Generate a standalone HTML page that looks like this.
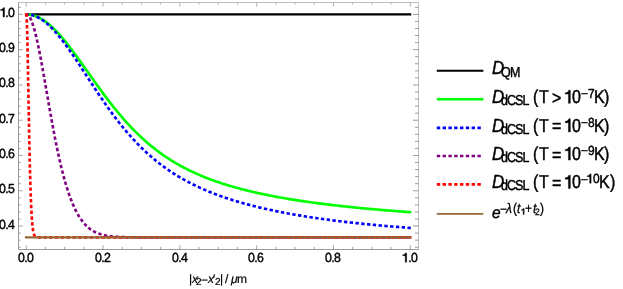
<!DOCTYPE html>
<html><head><meta charset="utf-8"><title>plot</title>
<style>
html,body{margin:0;padding:0;background:#fff;}
body{width:623px;height:289px;position:relative;overflow:hidden;font-family:"Liberation Sans",sans-serif;color:#000;}
#txt{position:absolute;left:0;top:0;width:623px;height:289px;will-change:transform;}
#txt>span{position:absolute;white-space:nowrap;line-height:1;transform:rotate(0.03deg);-webkit-text-stroke:0.4px #000;}
#txt>span>b{font-weight:normal;color:transparent;-webkit-text-stroke:0 transparent;}
</style></head><body>
<svg width="623" height="289" viewBox="0 0 623 289" style="position:absolute;left:0;top:0">
<g fill="none" stroke-linejoin="round">
<path d="M25.75,14.40 L411.25,14.40" stroke="#000" stroke-width="2.3"/>
<path d="M26.25,14.40 L26.60,14.40 L26.99,14.41 L27.38,14.43 L27.74,14.44 L28.09,14.47 L28.48,14.50 L28.84,14.53 L29.22,14.58 L29.64,14.63 L29.98,14.68 L30.33,14.73 L30.71,14.80 L31.11,14.87 L31.52,14.95 L31.81,15.02 L32.11,15.08 L32.42,15.16 L32.74,15.24 L33.07,15.32 L33.41,15.42 L33.76,15.52 L34.12,15.63 L34.49,15.75 L34.88,15.87 L35.27,16.01 L35.67,16.16 L36.08,16.31 L36.51,16.48 L36.95,16.66 L37.39,16.85 L37.85,17.05 L38.32,17.27 L38.56,17.38 L38.80,17.50 L39.05,17.62 L39.29,17.75 L39.55,17.87 L39.80,18.01 L40.06,18.14 L40.32,18.28 L40.58,18.43 L40.84,18.57 L41.11,18.73 L41.38,18.88 L41.66,19.05 L41.94,19.21 L42.22,19.38 L42.50,19.56 L42.79,19.74 L43.08,19.92 L43.37,20.11 L43.67,20.31 L43.97,20.51 L44.27,20.71 L44.58,20.92 L44.89,21.14 L45.20,21.36 L45.51,21.58 L45.83,21.82 L46.15,22.06 L46.48,22.30 L46.81,22.55 L47.14,22.81 L47.47,23.07 L47.81,23.34 L48.15,23.61 L48.50,23.89 L48.85,24.18 L49.20,24.47 L49.55,24.77 L49.91,25.08 L50.27,25.40 L50.64,25.72 L51.00,26.05 L51.38,26.38 L51.75,26.72 L52.13,27.07 L52.51,27.43 L52.90,27.80 L53.29,28.17 L53.68,28.55 L54.07,28.93 L54.47,29.33 L54.88,29.73 L55.28,30.14 L55.69,30.56 L56.10,30.99 L56.52,31.42 L56.94,31.86 L57.37,32.31 L57.79,32.77 L58.22,33.24 L58.66,33.71 L59.10,34.20 L59.54,34.69 L59.99,35.19 L60.44,35.70 L60.89,36.22 L61.34,36.75 L61.81,37.28 L62.27,37.83 L62.74,38.38 L63.21,38.94 L63.68,39.51 L64.16,40.09 L64.65,40.68 L65.13,41.27 L65.62,41.88 L66.12,42.49 L66.61,43.12 L67.12,43.75 L67.62,44.39 L68.13,45.04 L68.64,45.70 L69.16,46.36 L69.68,47.04 L70.21,47.72 L70.73,48.42 L71.27,49.12 L71.80,49.83 L72.34,50.55 L72.89,51.28 L73.44,52.01 L73.99,52.76 L74.54,53.51 L75.10,54.27 L75.67,55.04 L76.24,55.82 L76.81,56.61 L77.38,57.40 L77.96,58.21 L78.55,59.02 L79.14,59.83 L79.73,60.66 L80.33,61.49 L80.93,62.33 L81.53,63.18 L82.14,64.04 L82.75,64.90 L83.37,65.77 L83.99,66.65 L84.61,67.53 L85.24,68.42 L85.88,69.32 L86.51,70.22 L87.16,71.13 L87.80,72.04 L88.45,72.96 L89.11,73.89 L89.76,74.82 L90.43,75.76 L91.09,76.70 L91.76,77.65 L92.44,78.60 L93.12,79.56 L93.80,80.52 L94.49,81.48 L95.18,82.45 L95.88,83.43 L96.58,84.41 L97.29,85.39 L98.00,86.37 L98.71,87.36 L99.43,88.35 L100.15,89.34 L100.88,90.34 L101.61,91.34 L102.35,92.34 L103.09,93.34 L103.83,94.34 L104.58,95.35 L105.34,96.36 L106.09,97.36 L106.86,98.37 L107.62,99.38 L108.40,100.39 L109.17,101.40 L109.95,102.41 L110.74,103.42 L111.53,104.43 L112.32,105.44 L113.12,106.45 L113.92,107.46 L114.73,108.46 L115.54,109.47 L116.36,110.47 L117.18,111.47 L118.01,112.47 L118.84,113.47 L119.67,114.46 L120.51,115.46 L121.36,116.45 L122.21,117.43 L123.06,118.42 L123.92,119.40 L124.78,120.37 L125.65,121.35 L126.52,122.31 L127.40,123.28 L128.28,124.24 L129.17,125.20 L130.06,126.15 L130.96,127.10 L131.86,128.04 L132.76,128.98 L133.67,129.91 L134.59,130.84 L135.51,131.76 L136.43,132.68 L137.36,133.59 L138.30,134.50 L139.24,135.40 L140.18,136.30 L141.13,137.19 L142.08,138.07 L143.04,138.94 L144.00,139.82 L144.97,140.68 L145.95,141.54 L146.92,142.39 L147.91,143.23 L148.89,144.07 L149.89,144.90 L150.89,145.73 L151.89,146.55 L152.90,147.36 L153.91,148.16 L154.93,148.96 L155.95,149.75 L156.98,150.53 L158.01,151.31 L159.05,152.08 L160.09,152.84 L161.14,153.60 L162.19,154.34 L163.25,155.09 L164.31,155.82 L165.38,156.55 L166.45,157.27 L167.53,157.98 L168.61,158.68 L169.70,159.38 L170.79,160.07 L171.89,160.76 L172.99,161.44 L174.10,162.11 L175.21,162.77 L176.33,163.43 L177.46,164.07 L178.59,164.72 L179.72,165.35 L180.86,165.98 L182.00,166.60 L183.15,167.22 L184.31,167.83 L185.47,168.43 L186.63,169.02 L187.80,169.61 L188.98,170.19 L190.16,170.77 L191.35,171.34 L192.54,171.90 L193.74,172.46 L194.94,173.01 L196.15,173.55 L197.36,174.09 L198.58,174.62 L199.80,175.15 L201.03,175.67 L202.26,176.18 L203.50,176.69 L204.75,177.19 L206.00,177.69 L207.25,178.18 L208.52,178.67 L209.78,179.15 L211.05,179.62 L212.33,180.09 L213.61,180.55 L214.90,181.01 L216.20,181.47 L217.49,181.91 L218.80,182.36 L220.11,182.80 L221.42,183.23 L222.74,183.66 L224.07,184.08 L225.40,184.50 L226.74,184.92 L228.08,185.32 L229.43,185.73 L230.78,186.13 L232.14,186.53 L233.51,186.92 L234.88,187.31 L236.26,187.69 L237.64,188.07 L239.02,188.44 L240.42,188.81 L241.82,189.18 L243.22,189.54 L244.63,189.90 L246.04,190.26 L247.47,190.61 L248.89,190.95 L250.32,191.30 L251.76,191.64 L253.21,191.97 L254.65,192.31 L256.11,192.64 L257.57,192.96 L259.04,193.28 L260.51,193.60 L261.99,193.92 L263.47,194.23 L264.96,194.54 L266.45,194.85 L267.95,195.15 L269.46,195.45 L270.97,195.74 L272.49,196.04 L274.01,196.33 L275.54,196.62 L277.08,196.90 L278.62,197.18 L280.17,197.46 L281.72,197.74 L283.28,198.01 L284.84,198.28 L286.41,198.55 L287.99,198.82 L289.57,199.08 L291.16,199.34 L292.75,199.60 L294.35,199.85 L295.95,200.10 L297.57,200.35 L299.18,200.60 L300.81,200.85 L302.44,201.09 L304.07,201.33 L305.71,201.57 L307.36,201.80 L309.01,202.04 L310.67,202.27 L312.33,202.50 L314.01,202.73 L315.68,202.95 L317.36,203.17 L319.05,203.39 L320.75,203.61 L322.45,203.83 L324.16,204.05 L325.87,204.26 L327.59,204.47 L329.31,204.68 L331.04,204.88 L332.78,205.09 L334.52,205.29 L336.27,205.49 L338.03,205.69 L339.79,205.89 L341.56,206.09 L343.33,206.28 L345.11,206.48 L346.90,206.67 L348.69,206.86 L350.49,207.04 L352.29,207.23 L354.10,207.41 L355.92,207.60 L357.74,207.78 L359.57,207.96 L361.41,208.13 L363.25,208.31 L365.10,208.48 L366.95,208.66 L368.81,208.83 L370.68,209.00 L372.55,209.17 L374.43,209.34 L376.31,209.50 L378.20,209.67 L380.10,209.83 L382.01,209.99 L383.92,210.15 L385.83,210.31 L387.76,210.47 L389.68,210.63 L391.62,210.78 L393.56,210.93 L395.51,211.09 L397.47,211.24 L399.43,211.39 L401.39,211.54 L403.37,211.69 L405.35,211.83 L407.33,211.98 L409.33,212.12 L411.33,212.26" stroke="#00ff00" stroke-width="2.65"/>
<path d="M26.25,14.40 L26.60,14.40 L26.99,14.41 L27.38,14.43 L27.74,14.45 L28.09,14.47 L28.48,14.51 L28.84,14.55 L29.22,14.60 L29.53,14.64 L29.86,14.69 L30.21,14.75 L30.58,14.81 L30.97,14.89 L31.38,14.98 L31.67,15.05 L31.96,15.12 L32.27,15.20 L32.58,15.29 L32.91,15.38 L33.24,15.48 L33.59,15.59 L33.94,15.70 L34.31,15.83 L34.68,15.97 L35.07,16.11 L35.47,16.27 L35.88,16.44 L36.30,16.62 L36.73,16.81 L37.17,17.01 L37.62,17.23 L38.08,17.47 L38.32,17.59 L38.56,17.71 L38.80,17.84 L39.05,17.98 L39.29,18.12 L39.55,18.26 L39.80,18.40 L40.06,18.56 L40.32,18.71 L40.58,18.87 L40.84,19.03 L41.11,19.20 L41.38,19.38 L41.66,19.56 L41.94,19.74 L42.22,19.93 L42.50,20.12 L42.79,20.32 L43.08,20.53 L43.37,20.74 L43.67,20.95 L43.97,21.18 L44.27,21.40 L44.58,21.64 L44.89,21.87 L45.20,22.12 L45.51,22.37 L45.83,22.63 L46.15,22.89 L46.48,23.16 L46.81,23.44 L47.14,23.72 L47.47,24.01 L47.81,24.31 L48.15,24.62 L48.50,24.93 L48.85,25.24 L49.20,25.57 L49.55,25.90 L49.91,26.24 L50.27,26.59 L50.64,26.95 L51.00,27.31 L51.38,27.68 L51.75,28.06 L52.13,28.45 L52.51,28.84 L52.90,29.24 L53.29,29.65 L53.68,30.07 L54.07,30.50 L54.47,30.94 L54.88,31.38 L55.28,31.83 L55.69,32.30 L56.10,32.77 L56.52,33.25 L56.94,33.73 L57.37,34.23 L57.79,34.74 L58.22,35.25 L58.66,35.78 L59.10,36.31 L59.54,36.85 L59.99,37.40 L60.44,37.97 L60.89,38.54 L61.34,39.12 L61.81,39.71 L62.27,40.30 L62.74,40.91 L63.21,41.53 L63.68,42.16 L64.16,42.79 L64.65,43.44 L65.13,44.09 L65.62,44.76 L66.12,45.43 L66.61,46.12 L67.12,46.81 L67.62,47.52 L68.13,48.23 L68.64,48.95 L69.16,49.68 L69.68,50.42 L70.21,51.17 L70.73,51.93 L71.27,52.70 L71.80,53.48 L72.34,54.27 L72.89,55.07 L73.44,55.87 L73.99,56.69 L74.54,57.51 L75.10,58.34 L75.67,59.18 L76.24,60.03 L76.81,60.89 L77.38,61.76 L77.96,62.64 L78.55,63.52 L79.14,64.41 L79.73,65.31 L80.33,66.22 L80.93,67.14 L81.53,68.06 L82.14,68.99 L82.75,69.93 L83.37,70.87 L83.99,71.83 L84.61,72.79 L85.24,73.75 L85.88,74.73 L86.51,75.71 L87.16,76.69 L87.80,77.69 L88.45,78.68 L89.11,79.69 L89.76,80.70 L90.43,81.71 L91.09,82.73 L91.76,83.76 L92.44,84.79 L93.12,85.82 L93.80,86.86 L94.49,87.91 L95.18,88.95 L95.88,90.00 L96.58,91.06 L97.29,92.12 L98.00,93.18 L98.71,94.24 L99.43,95.31 L100.15,96.38 L100.88,97.45 L101.61,98.53 L102.35,99.60 L103.09,100.68 L103.83,101.76 L104.58,102.84 L105.34,103.92 L106.09,105.00 L106.86,106.08 L107.62,107.16 L108.40,108.25 L109.17,109.33 L109.95,110.41 L110.74,111.49 L111.53,112.57 L112.32,113.65 L113.12,114.73 L113.92,115.81 L114.73,116.88 L115.54,117.95 L116.36,119.03 L117.18,120.09 L118.01,121.16 L118.84,122.22 L119.67,123.28 L120.51,124.34 L121.36,125.39 L122.21,126.45 L123.06,127.49 L123.92,128.54 L124.78,129.57 L125.65,130.61 L126.52,131.64 L127.40,132.67 L128.28,133.69 L129.17,134.70 L130.06,135.71 L130.96,136.72 L131.86,137.72 L132.76,138.72 L133.67,139.71 L134.59,140.69 L135.51,141.67 L136.43,142.64 L137.36,143.61 L138.30,144.57 L139.24,145.52 L140.18,146.47 L141.13,147.41 L142.08,148.35 L143.04,149.27 L144.00,150.20 L144.97,151.11 L145.95,152.02 L146.92,152.92 L147.91,153.81 L148.89,154.70 L149.89,155.58 L150.89,156.45 L151.89,157.32 L152.90,158.17 L153.91,159.02 L154.93,159.87 L155.95,160.70 L156.98,161.53 L158.01,162.35 L159.05,163.17 L160.09,163.97 L161.14,164.77 L162.19,165.56 L163.25,166.35 L164.31,167.13 L165.38,167.90 L166.45,168.66 L167.53,169.41 L168.61,170.16 L169.70,170.90 L170.79,171.63 L171.89,172.36 L172.99,173.07 L174.10,173.79 L175.21,174.49 L176.33,175.18 L177.46,175.87 L178.59,176.56 L179.72,177.23 L180.86,177.90 L182.00,178.56 L183.15,179.21 L184.31,179.86 L185.47,180.50 L186.63,181.14 L187.80,181.76 L188.98,182.38 L190.16,183.00 L191.35,183.60 L192.54,184.20 L193.74,184.80 L194.94,185.39 L196.15,185.97 L197.36,186.54 L198.58,187.11 L199.80,187.67 L201.03,188.23 L202.26,188.78 L203.50,189.33 L204.75,189.87 L206.00,190.40 L207.25,190.93 L208.52,191.45 L209.78,191.97 L211.05,192.48 L212.33,192.98 L213.61,193.48 L214.90,193.98 L216.20,194.47 L217.49,194.95 L218.80,195.43 L220.11,195.90 L221.42,196.37 L222.74,196.84 L224.07,197.30 L225.40,197.75 L226.74,198.20 L228.08,198.64 L229.43,199.08 L230.78,199.52 L232.14,199.95 L233.51,200.38 L234.88,200.80 L236.26,201.22 L237.64,201.63 L239.02,202.04 L240.42,202.44 L241.82,202.84 L243.22,203.24 L244.63,203.63 L246.04,204.02 L247.47,204.40 L248.89,204.78 L250.32,205.16 L251.76,205.53 L253.21,205.90 L254.65,206.27 L256.11,206.63 L257.57,206.99 L259.04,207.34 L260.51,207.69 L261.99,208.04 L263.47,208.38 L264.96,208.72 L266.45,209.06 L267.95,209.39 L269.46,209.72 L270.97,210.05 L272.49,210.37 L274.01,210.69 L275.54,211.01 L277.08,211.33 L278.62,211.64 L280.17,211.94 L281.72,212.25 L283.28,212.55 L284.84,212.85 L286.41,213.15 L287.99,213.44 L289.57,213.73 L291.16,214.02 L292.75,214.30 L294.35,214.58 L295.95,214.86 L297.57,215.14 L299.18,215.41 L300.81,215.68 L302.44,215.95 L304.07,216.22 L305.71,216.48 L307.36,216.74 L309.01,217.00 L310.67,217.25 L312.33,217.51 L314.01,217.76 L315.68,218.00 L317.36,218.25 L319.05,218.49 L320.75,218.73 L322.45,218.97 L324.16,219.21 L325.87,219.44 L327.59,219.67 L329.31,219.90 L331.04,220.13 L332.78,220.35 L334.52,220.58 L336.27,220.80 L338.03,221.02 L339.79,221.23 L341.56,221.44 L343.33,221.66 L345.11,221.87 L346.90,222.07 L348.69,222.28 L350.49,222.48 L352.29,222.68 L354.10,222.88 L355.92,223.08 L357.74,223.27 L359.57,223.47 L361.41,223.66 L363.25,223.85 L365.10,224.04 L366.95,224.22 L368.81,224.40 L370.68,224.59 L372.55,224.77 L374.43,224.94 L376.31,225.12 L378.20,225.29 L380.10,225.47 L382.01,225.64 L383.92,225.81 L385.83,225.97 L387.76,226.14 L389.68,226.30 L391.62,226.46 L393.56,226.62 L395.51,226.78 L397.47,226.94 L399.43,227.09 L401.39,227.25 L403.37,227.40 L405.35,227.55 L407.33,227.70 L409.33,227.84 L411.33,227.99" stroke="#0000ff" stroke-width="2.65" stroke-dasharray="3.4 2.4" stroke-dashoffset="0.9"/>
<path d="M26.25,14.40 L26.58,14.43 L26.86,14.49 L27.17,14.60 L27.43,14.74 L27.67,14.89 L27.94,15.09 L28.16,15.28 L28.40,15.51 L28.66,15.79 L28.84,16.01 L29.03,16.25 L29.22,16.52 L29.43,16.82 L29.64,17.15 L29.86,17.52 L30.09,17.93 L30.33,18.38 L30.46,18.62 L30.58,18.87 L30.71,19.14 L30.84,19.41 L30.97,19.70 L31.11,20.00 L31.24,20.32 L31.38,20.65 L31.52,20.99 L31.67,21.35 L31.81,21.72 L31.96,22.11 L32.11,22.51 L32.27,22.93 L32.42,23.37 L32.58,23.82 L32.74,24.29 L32.91,24.78 L33.07,25.29 L33.24,25.82 L33.41,26.36 L33.59,26.93 L33.76,27.52 L33.94,28.12 L34.12,28.75 L34.31,29.40 L34.49,30.07 L34.68,30.77 L34.88,31.48 L35.07,32.22 L35.27,32.99 L35.47,33.77 L35.67,34.58 L35.88,35.42 L36.08,36.28 L36.30,37.17 L36.51,38.08 L36.73,39.02 L36.95,39.98 L37.17,40.97 L37.39,41.99 L37.62,43.03 L37.85,44.10 L38.08,45.20 L38.32,46.33 L38.56,47.48 L38.80,48.66 L39.05,49.87 L39.29,51.11 L39.55,52.37 L39.80,53.67 L40.06,54.99 L40.32,56.34 L40.58,57.72 L40.84,59.12 L41.11,60.56 L41.38,62.02 L41.66,63.51 L41.94,65.03 L42.22,66.57 L42.50,68.14 L42.79,69.74 L43.08,71.36 L43.37,73.01 L43.67,74.68 L43.97,76.38 L44.27,78.10 L44.58,79.85 L44.89,81.62 L45.20,83.41 L45.51,85.23 L45.83,87.06 L46.15,88.92 L46.48,90.80 L46.81,92.69 L47.14,94.61 L47.47,96.54 L47.81,98.49 L48.15,100.45 L48.50,102.43 L48.85,104.42 L49.20,106.43 L49.55,108.45 L49.91,110.48 L50.27,112.52 L50.64,114.57 L51.00,116.62 L51.38,118.69 L51.75,120.76 L52.13,122.83 L52.51,124.91 L52.90,126.99 L53.29,129.07 L53.68,131.15 L54.07,133.23 L54.47,135.31 L54.88,137.39 L55.28,139.46 L55.69,141.52 L56.10,143.58 L56.52,145.63 L56.94,147.68 L57.37,149.71 L57.79,151.73 L58.22,153.74 L58.66,155.74 L59.10,157.72 L59.54,159.69 L59.99,161.64 L60.44,163.58 L60.89,165.49 L61.34,167.39 L61.81,169.27 L62.27,171.13 L62.74,172.96 L63.21,174.78 L63.68,176.57 L64.16,178.34 L64.65,180.08 L65.13,181.80 L65.62,183.50 L66.12,185.17 L66.61,186.81 L67.12,188.42 L67.62,190.01 L68.13,191.57 L68.64,193.10 L69.16,194.60 L69.68,196.07 L70.21,197.52 L70.73,198.93 L71.27,200.31 L71.80,201.67 L72.34,202.99 L72.89,204.29 L73.44,205.55 L73.99,206.78 L74.54,207.99 L75.10,209.16 L75.67,210.30 L76.24,211.41 L76.81,212.49 L77.38,213.55 L77.96,214.57 L78.55,215.56 L79.14,216.52 L79.73,217.46 L80.33,218.36 L80.93,219.24 L81.53,220.08 L82.14,220.90 L82.75,221.70 L83.37,222.46 L83.99,223.20 L84.61,223.91 L85.24,224.60 L85.88,225.26 L86.51,225.89 L87.16,226.50 L87.80,227.09 L88.45,227.65 L89.11,228.19 L89.76,228.71 L90.43,229.20 L91.09,229.67 L91.76,230.12 L92.44,230.56 L93.12,230.97 L93.80,231.36 L94.49,231.73 L95.18,232.09 L95.88,232.42 L96.58,232.75 L97.29,233.05 L98.00,233.34 L98.71,233.61 L99.43,233.87 L100.15,234.11 L100.88,234.34 L101.61,234.55 L102.35,234.76 L103.09,234.95 L103.83,235.13 L104.58,235.30 L105.34,235.46 L106.09,235.60 L106.86,235.74 L107.62,235.87 L108.40,235.99 L109.17,236.10 L109.95,236.21 L110.74,236.30 L111.53,236.39 L112.32,236.48 L113.12,236.55 L113.92,236.63 L114.73,236.69 L115.54,236.75 L116.36,236.81 L117.18,236.86 L118.01,236.91 L118.84,236.95 L119.67,236.99 L120.51,237.02 L121.36,237.06 L122.21,237.09 L123.06,237.11 L123.92,237.14 L124.78,237.16 L125.65,237.18 L126.52,237.20 L127.40,237.22 L128.28,237.23 L129.17,237.24 L130.06,237.26 L130.96,237.27 L131.86,237.28 L132.76,237.29 L133.67,237.29 L134.59,237.30 L135.51,237.31 L136.43,237.31 L137.36,237.32 L138.30,237.32 L139.24,237.32 L140.18,237.33 L141.13,237.33 L142.08,237.33 L143.04,237.33 L144.00,237.34 L144.97,237.34 L145.95,237.34 L146.92,237.34 L147.91,237.34 L148.89,237.34 L149.89,237.34 L150.89,237.34 L151.89,237.35 L152.90,237.35 L153.91,237.35 L154.93,237.35 L155.95,237.35 L156.98,237.35 L158.01,237.35 L159.05,237.35 L160.09,237.35 L161.14,237.35 L162.19,237.35 L163.25,237.35 L164.31,237.35 L165.38,237.35 L166.45,237.35 L167.53,237.35 L168.61,237.35 L169.70,237.35 L170.79,237.35 L171.89,237.35 L172.99,237.35 L174.10,237.35 L175.21,237.35 L176.33,237.35 L177.46,237.35 L178.59,237.35 L179.72,237.35 L180.86,237.35 L182.00,237.35 L183.15,237.35 L184.31,237.35 L185.47,237.35 L186.63,237.35 L187.80,237.35 L188.98,237.35 L190.16,237.35 L191.35,237.35 L192.54,237.35 L193.74,237.35 L194.94,237.35 L196.15,237.35 L197.36,237.35 L198.58,237.35 L199.80,237.35 L201.03,237.35 L202.26,237.35 L203.50,237.35 L204.75,237.35 L206.00,237.35 L207.25,237.35 L208.52,237.35 L209.78,237.35 L211.05,237.35 L212.33,237.35 L213.61,237.35 L214.90,237.35 L216.20,237.35 L217.49,237.35 L218.80,237.35 L220.11,237.35 L221.42,237.35 L222.74,237.35 L224.07,237.35 L225.40,237.35 L226.74,237.35 L228.08,237.35 L229.43,237.35 L230.78,237.35 L232.14,237.35 L233.51,237.35 L234.88,237.35 L236.26,237.35 L237.64,237.35 L239.02,237.35 L240.42,237.35 L241.82,237.35 L243.22,237.35 L244.63,237.35 L246.04,237.35 L247.47,237.35 L248.89,237.35 L250.32,237.35 L251.76,237.35 L253.21,237.35 L254.65,237.35 L256.11,237.35 L257.57,237.35 L259.04,237.35 L260.51,237.35 L261.99,237.35 L263.47,237.35 L264.96,237.35 L266.45,237.35 L267.95,237.35 L269.46,237.35 L270.97,237.35 L272.49,237.35 L274.01,237.35 L275.54,237.35 L277.08,237.35 L278.62,237.35 L280.17,237.35 L281.72,237.35 L283.28,237.35 L284.84,237.35 L286.41,237.35 L287.99,237.35 L289.57,237.35 L291.16,237.35 L292.75,237.35 L294.35,237.35 L295.95,237.35 L297.57,237.35 L299.18,237.35 L300.81,237.35 L302.44,237.35 L304.07,237.35 L305.71,237.35 L307.36,237.35 L309.01,237.35 L310.67,237.35 L312.33,237.35 L314.01,237.35 L315.68,237.35 L317.36,237.35 L319.05,237.35 L320.75,237.35 L322.45,237.35 L324.16,237.35 L325.87,237.35 L327.59,237.35 L329.31,237.35 L331.04,237.35 L332.78,237.35 L334.52,237.35 L336.27,237.35 L338.03,237.35 L339.79,237.35 L341.56,237.35 L343.33,237.35 L345.11,237.35 L346.90,237.35 L348.69,237.35 L350.49,237.35 L352.29,237.35 L354.10,237.35 L355.92,237.35 L357.74,237.35 L359.57,237.35 L361.41,237.35 L363.25,237.35 L365.10,237.35 L366.95,237.35 L368.81,237.35 L370.68,237.35 L372.55,237.35 L374.43,237.35 L376.31,237.35 L378.20,237.35 L380.10,237.35 L382.01,237.35 L383.92,237.35 L385.83,237.35 L387.76,237.35 L389.68,237.35 L391.62,237.35 L393.56,237.35 L395.51,237.35 L397.47,237.35 L399.43,237.35 L401.39,237.35 L403.37,237.35 L405.35,237.35 L407.33,237.35 L409.33,237.35 L411.33,237.35" stroke="#800080" stroke-width="2.65" stroke-dasharray="3.4 2.4" stroke-dashoffset="0.9"/>
<path d="M26.25,14.40 L26.36,14.69 L26.43,15.09 L26.46,15.41 L26.51,15.85 L26.55,16.43 L26.58,16.77 L26.60,17.17 L26.63,17.62 L26.66,18.12 L26.69,18.68 L26.72,19.31 L26.76,20.01 L26.79,20.78 L26.83,21.64 L26.86,22.58 L26.90,23.62 L26.94,24.75 L26.99,25.99 L27.03,27.35 L27.07,28.81 L27.12,30.41 L27.17,32.12 L27.22,33.98 L27.27,35.97 L27.32,38.10 L27.38,40.38 L27.43,42.82 L27.49,45.40 L27.55,48.15 L27.61,51.05 L27.67,54.12 L27.74,57.34 L27.80,60.72 L27.87,64.26 L27.94,67.96 L28.01,71.80 L28.09,75.80 L28.16,79.93 L28.24,84.19 L28.32,88.58 L28.40,93.09 L28.48,97.69 L28.57,102.39 L28.66,107.17 L28.75,112.02 L28.84,116.92 L28.93,121.86 L29.03,126.83 L29.12,131.80 L29.22,136.76 L29.32,141.71 L29.43,146.61 L29.53,151.47 L29.64,156.25 L29.75,160.96 L29.86,165.57 L29.98,170.08 L30.09,174.46 L30.21,178.72 L30.33,182.84 L30.46,186.81 L30.58,190.63 L30.71,194.29 L30.84,197.78 L30.97,201.10 L31.11,204.26 L31.24,207.24 L31.38,210.04 L31.52,212.67 L31.67,215.13 L31.81,217.42 L31.96,219.55 L32.11,221.51 L32.27,223.32 L32.42,224.98 L32.58,226.48 L32.74,227.85 L32.91,229.09 L33.07,230.21 L33.24,231.20 L33.41,232.09 L33.59,232.87 L33.76,233.56 L33.94,234.16 L34.12,234.69 L34.31,235.14 L34.49,235.53 L34.68,235.86 L34.88,236.14 L35.07,236.37 L35.27,236.56 L35.47,236.73 L35.88,236.96 L36.30,237.12 L36.73,237.22 L37.17,237.28 L37.62,237.31 L38.08,237.33 L38.56,237.34 L39.05,237.34 L39.55,237.35 L40.06,237.35 L40.58,237.35 L41.11,237.35 L41.66,237.35 L42.22,237.35 L42.79,237.35 L43.37,237.35 L43.97,237.35 L44.58,237.35 L45.20,237.35 L45.83,237.35 L46.48,237.35 L47.14,237.35 L47.81,237.35 L48.50,237.35 L49.20,237.35 L49.55,237.35 L49.91,237.35 L50.27,237.35 L50.64,237.35 L51.00,237.35 L51.38,237.35 L51.75,237.35 L52.13,237.35 L52.51,237.35 L52.90,237.35 L53.29,237.35 L53.68,237.35 L54.07,237.35 L54.47,237.35 L54.88,237.35 L55.28,237.35 L55.69,237.35 L56.10,237.35 L56.52,237.35 L56.94,237.35 L57.37,237.35 L57.79,237.35 L58.22,237.35 L58.66,237.35 L59.10,237.35 L59.54,237.35 L59.99,237.35 L60.44,237.35 L60.89,237.35 L61.34,237.35 L61.81,237.35 L62.27,237.35 L62.74,237.35 L63.21,237.35 L63.68,237.35 L64.16,237.35 L64.65,237.35 L65.13,237.35 L65.62,237.35 L66.12,237.35 L66.61,237.35 L67.12,237.35 L67.62,237.35 L68.13,237.35 L68.64,237.35 L69.16,237.35 L69.68,237.35 L70.21,237.35 L70.73,237.35 L71.27,237.35 L71.80,237.35 L72.34,237.35 L72.89,237.35 L73.44,237.35 L73.99,237.35 L74.54,237.35 L75.10,237.35 L75.67,237.35 L76.24,237.35 L76.81,237.35 L77.38,237.35 L77.96,237.35 L78.55,237.35 L79.14,237.35 L79.73,237.35 L80.33,237.35 L80.93,237.35 L81.53,237.35 L82.14,237.35 L82.75,237.35 L83.37,237.35 L83.99,237.35 L84.61,237.35 L85.24,237.35 L85.88,237.35 L86.51,237.35 L87.16,237.35 L87.80,237.35 L88.45,237.35 L89.11,237.35 L89.76,237.35 L90.43,237.35 L91.09,237.35 L91.76,237.35 L92.44,237.35 L93.12,237.35 L93.80,237.35 L94.49,237.35 L95.18,237.35 L95.88,237.35 L96.58,237.35 L97.29,237.35 L98.00,237.35 L98.71,237.35 L99.43,237.35 L100.15,237.35 L100.88,237.35 L101.61,237.35 L102.35,237.35 L103.09,237.35 L103.83,237.35 L104.58,237.35 L105.34,237.35 L106.09,237.35 L106.86,237.35 L107.62,237.35 L108.40,237.35 L109.17,237.35 L109.95,237.35 L110.74,237.35 L111.53,237.35 L112.32,237.35 L113.12,237.35 L113.92,237.35 L114.73,237.35 L115.54,237.35 L116.36,237.35 L117.18,237.35 L118.01,237.35 L118.84,237.35 L119.67,237.35 L120.51,237.35 L121.36,237.35 L122.21,237.35 L123.06,237.35 L123.92,237.35 L124.78,237.35 L125.65,237.35 L126.52,237.35 L127.40,237.35 L128.28,237.35 L129.17,237.35 L130.06,237.35 L130.96,237.35 L131.86,237.35 L132.76,237.35 L133.67,237.35 L134.59,237.35 L135.51,237.35 L136.43,237.35 L137.36,237.35 L138.30,237.35 L139.24,237.35 L140.18,237.35 L141.13,237.35 L142.08,237.35 L143.04,237.35 L144.00,237.35 L144.97,237.35 L145.95,237.35 L146.92,237.35 L147.91,237.35 L148.89,237.35 L149.89,237.35 L150.89,237.35 L151.89,237.35 L152.90,237.35 L153.91,237.35 L154.93,237.35 L155.95,237.35 L156.98,237.35 L158.01,237.35 L159.05,237.35 L160.09,237.35 L161.14,237.35 L162.19,237.35 L163.25,237.35 L164.31,237.35 L165.38,237.35 L166.45,237.35 L167.53,237.35 L168.61,237.35 L169.70,237.35 L170.79,237.35 L171.89,237.35 L172.99,237.35 L174.10,237.35 L175.21,237.35 L176.33,237.35 L177.46,237.35 L178.59,237.35 L179.72,237.35 L180.86,237.35 L182.00,237.35 L183.15,237.35 L184.31,237.35 L185.47,237.35 L186.63,237.35 L187.80,237.35 L188.98,237.35 L190.16,237.35 L191.35,237.35 L192.54,237.35 L193.74,237.35 L194.94,237.35 L196.15,237.35 L197.36,237.35 L198.58,237.35 L199.80,237.35 L201.03,237.35 L202.26,237.35 L203.50,237.35 L204.75,237.35 L206.00,237.35 L207.25,237.35 L208.52,237.35 L209.78,237.35 L211.05,237.35 L212.33,237.35 L213.61,237.35 L214.90,237.35 L216.20,237.35 L217.49,237.35 L218.80,237.35 L220.11,237.35 L221.42,237.35 L222.74,237.35 L224.07,237.35 L225.40,237.35 L226.74,237.35 L228.08,237.35 L229.43,237.35 L230.78,237.35 L232.14,237.35 L233.51,237.35 L234.88,237.35 L236.26,237.35 L237.64,237.35 L239.02,237.35 L240.42,237.35 L241.82,237.35 L243.22,237.35 L244.63,237.35 L246.04,237.35 L247.47,237.35 L248.89,237.35 L250.32,237.35 L251.76,237.35 L253.21,237.35 L254.65,237.35 L256.11,237.35 L257.57,237.35 L259.04,237.35 L260.51,237.35 L261.99,237.35 L263.47,237.35 L264.96,237.35 L266.45,237.35 L267.95,237.35 L269.46,237.35 L270.97,237.35 L272.49,237.35 L274.01,237.35 L275.54,237.35 L277.08,237.35 L278.62,237.35 L280.17,237.35 L281.72,237.35 L283.28,237.35 L284.84,237.35 L286.41,237.35 L287.99,237.35 L289.57,237.35 L291.16,237.35 L292.75,237.35 L294.35,237.35 L295.95,237.35 L297.57,237.35 L299.18,237.35 L300.81,237.35 L302.44,237.35 L304.07,237.35 L305.71,237.35 L307.36,237.35 L309.01,237.35 L310.67,237.35 L312.33,237.35 L314.01,237.35 L315.68,237.35 L317.36,237.35 L319.05,237.35 L320.75,237.35 L322.45,237.35 L324.16,237.35 L325.87,237.35 L327.59,237.35 L329.31,237.35 L331.04,237.35 L332.78,237.35 L334.52,237.35 L336.27,237.35 L338.03,237.35 L339.79,237.35 L341.56,237.35 L343.33,237.35 L345.11,237.35 L346.90,237.35 L348.69,237.35 L350.49,237.35 L352.29,237.35 L354.10,237.35 L355.92,237.35 L357.74,237.35 L359.57,237.35 L361.41,237.35 L363.25,237.35 L365.10,237.35 L366.95,237.35 L368.81,237.35 L370.68,237.35 L372.55,237.35 L374.43,237.35 L376.31,237.35 L378.20,237.35 L380.10,237.35 L382.01,237.35 L383.92,237.35 L385.83,237.35 L387.76,237.35 L389.68,237.35 L391.62,237.35 L393.56,237.35 L395.51,237.35 L397.47,237.35 L399.43,237.35 L401.39,237.35 L403.37,237.35 L405.35,237.35 L407.33,237.35 L409.33,237.35 L411.33,237.35" stroke="#ff0000" stroke-width="2.65" stroke-dasharray="3.4 2.4" stroke-dashoffset="0.9"/>
<path d="M24.80,14.55 H27.85" stroke="#ff0000" stroke-width="2.65"/>
<path d="M24.95,237.35 L411.05,237.35" stroke="#996633" stroke-width="2.2"/>
</g>
<g fill="none" stroke="#666">
<path stroke-width="0.66" d="M18.50,2.25 V249.50 H418.70"/>
<path stroke-width="0.42" d="M18.50,2.50 H418.50 V249.50"/>
<path stroke-width="0.58" d="M26.25,249.50 v-4.30 M45.45,249.50 v-2.60 M64.65,249.50 v-2.60 M83.85,249.50 v-2.60 M103.05,249.50 v-4.30 M122.25,249.50 v-2.60 M141.45,249.50 v-2.60 M160.65,249.50 v-2.60 M179.85,249.50 v-4.30 M199.05,249.50 v-2.60 M218.25,249.50 v-2.60 M237.45,249.50 v-2.60 M256.65,249.50 v-4.30 M275.85,249.50 v-2.60 M295.05,249.50 v-2.60 M314.25,249.50 v-2.60 M333.45,249.50 v-4.30 M352.65,249.50 v-2.60 M371.85,249.50 v-2.60 M391.05,249.50 v-2.60 M410.25,249.50 v-4.30 M18.50,247.18 h2.30 M18.50,240.13 h2.30 M18.50,233.07 h2.30 M18.50,226.02 h4.30 M18.50,218.97 h2.30 M18.50,211.91 h2.30 M18.50,204.86 h2.30 M18.50,197.80 h2.30 M18.50,190.75 h4.30 M18.50,183.70 h2.30 M18.50,176.64 h2.30 M18.50,169.59 h2.30 M18.50,162.53 h2.30 M18.50,155.48 h4.30 M18.50,148.43 h2.30 M18.50,141.37 h2.30 M18.50,134.32 h2.30 M18.50,127.26 h2.30 M18.50,120.21 h4.30 M18.50,113.16 h2.30 M18.50,106.10 h2.30 M18.50,99.05 h2.30 M18.50,91.99 h2.30 M18.50,84.94 h4.30 M18.50,77.89 h2.30 M18.50,70.83 h2.30 M18.50,63.78 h2.30 M18.50,56.72 h2.30 M18.50,49.67 h4.30 M18.50,42.62 h2.30 M18.50,35.56 h2.30 M18.50,28.51 h2.30 M18.50,21.45 h2.30 M18.50,14.40 h4.30 M18.50,7.35 h2.30"/>
<path stroke-width="0.65" d="M418.50,247.18 h-3.50 M418.50,240.13 h-3.50 M418.50,233.07 h-3.50 M418.50,226.02 h-5.50 M418.50,218.97 h-3.50 M418.50,211.91 h-3.50 M418.50,204.86 h-3.50 M418.50,197.80 h-3.50 M418.50,190.75 h-5.50 M418.50,183.70 h-3.50 M418.50,176.64 h-3.50 M418.50,169.59 h-3.50 M418.50,162.53 h-3.50 M418.50,155.48 h-5.50 M418.50,148.43 h-3.50 M418.50,141.37 h-3.50 M418.50,134.32 h-3.50 M418.50,127.26 h-3.50 M418.50,120.21 h-5.50 M418.50,113.16 h-3.50 M418.50,106.10 h-3.50 M418.50,99.05 h-3.50 M418.50,91.99 h-3.50 M418.50,84.94 h-5.50 M418.50,77.89 h-3.50 M418.50,70.83 h-3.50 M418.50,63.78 h-3.50 M418.50,56.72 h-3.50 M418.50,49.67 h-5.50 M418.50,42.62 h-3.50 M418.50,35.56 h-3.50 M418.50,28.51 h-3.50 M418.50,21.45 h-3.50 M418.50,14.40 h-5.50 M418.50,7.35 h-3.50"/>
<path stroke-width="0.48" d="M26.25,2.50 v4.20 M45.45,2.50 v2.20 M64.65,2.50 v2.20 M83.85,2.50 v2.20 M103.05,2.50 v4.20 M122.25,2.50 v2.20 M141.45,2.50 v2.20 M160.65,2.50 v2.20 M179.85,2.50 v4.20 M199.05,2.50 v2.20 M218.25,2.50 v2.20 M237.45,2.50 v2.20 M256.65,2.50 v4.20 M275.85,2.50 v2.20 M295.05,2.50 v2.20 M314.25,2.50 v2.20 M333.45,2.50 v4.20 M352.65,2.50 v2.20 M371.85,2.50 v2.20 M391.05,2.50 v2.20 M410.25,2.50 v4.20"/>
</g>
<g fill="none">
<path d="M436.8,70.7 H483.4" stroke="#000" stroke-width="1.9"/>
<path d="M436.8,99.2 H483.4" stroke="#00ff00" stroke-width="2.65"/>
<path d="M436.8,127.8 H482.5" stroke="#0000ff" stroke-width="2.65" stroke-dasharray="3.4 2.4"/>
<path d="M436.8,156.0 H482.5" stroke="#800080" stroke-width="2.65" stroke-dasharray="3.4 2.4"/>
<path d="M436.8,184.3 H482.5" stroke="#ff0000" stroke-width="2.65" stroke-dasharray="3.4 2.4"/>
<path d="M436.8,213.8 H483.4" stroke="#996633" stroke-width="1.8"/>
</g>
</svg>
<div id="txt">
<span style="left:-1.03px;top:218.57px;font-size:12.3px;letter-spacing:-0.65px;transform:rotate(0.03deg) scale(1,1.07);transform-origin:0 10.0px;">0.4</span>
<span style="left:-0.97px;top:183.30px;font-size:12.3px;letter-spacing:-0.65px;transform:rotate(0.03deg) scale(1,1.07);transform-origin:0 10.0px;">0.5</span>
<span style="left:-0.96px;top:148.03px;font-size:12.3px;letter-spacing:-0.65px;transform:rotate(0.03deg) scale(1,1.07);transform-origin:0 10.0px;">0.6</span>
<span style="left:-0.85px;top:112.76px;font-size:12.3px;letter-spacing:-0.65px;transform:rotate(0.03deg) scale(1,1.07);transform-origin:0 10.0px;">0.7</span>
<span style="left:-0.94px;top:77.49px;font-size:12.3px;letter-spacing:-0.65px;transform:rotate(0.03deg) scale(1,1.07);transform-origin:0 10.0px;">0.8</span>
<span style="left:-0.94px;top:42.22px;font-size:12.3px;letter-spacing:-0.65px;transform:rotate(0.03deg) scale(1,1.07);transform-origin:0 10.0px;">0.9</span>
<span style="left:-1.02px;top:6.95px;font-size:12.3px;letter-spacing:-0.65px;transform:rotate(0.03deg) scale(1,1.07);transform-origin:0 10.0px;"><b>1</b>.0</span>
<span style="left:17.91px;top:252.15px;font-size:12.3px;letter-spacing:-0.65px;transform:rotate(0.03deg) scale(1,1.07);transform-origin:0 10.0px;">0.0</span>
<span style="left:94.75px;top:252.15px;font-size:12.3px;letter-spacing:-0.65px;transform:rotate(0.03deg) scale(1,1.07);transform-origin:0 10.0px;">0.2</span>
<span style="left:171.52px;top:252.15px;font-size:12.3px;letter-spacing:-0.65px;transform:rotate(0.03deg) scale(1,1.07);transform-origin:0 10.0px;">0.4</span>
<span style="left:248.35px;top:252.15px;font-size:12.3px;letter-spacing:-0.65px;transform:rotate(0.03deg) scale(1,1.07);transform-origin:0 10.0px;">0.6</span>
<span style="left:325.15px;top:252.15px;font-size:12.3px;letter-spacing:-0.65px;transform:rotate(0.03deg) scale(1,1.07);transform-origin:0 10.0px;">0.8</span>
<span style="left:401.73px;top:252.15px;font-size:12.3px;letter-spacing:-0.65px;transform:rotate(0.03deg) scale(1,1.07);transform-origin:0 10.0px;"><b>1</b>.0</span>
<span style="left:189.31px;top:273.05px;font-size:12px;-webkit-text-stroke-width:0.2px;transform:rotate(0.03deg) scale(1,1.02);transform-origin:0 10.0px;">|</span>
<span style="left:191.99px;top:273.05px;font-size:12px;font-style:italic;-webkit-text-stroke-width:0.2px;transform:rotate(0.03deg) scale(1,1.02);transform-origin:0 10.0px;">x</span>
<span style="left:196.45px;top:276.95px;font-size:10px;-webkit-text-stroke-width:0.2px;transform:rotate(0.03deg) scale(1,1.02);transform-origin:0 8.0px;">2</span>
<span style="left:201.41px;top:273.55px;font-size:12px;-webkit-text-stroke-width:0.2px;transform:rotate(0.03deg) scale(1,1.02);transform-origin:0 10.0px;">−</span>
<span style="left:208.19px;top:273.05px;font-size:12px;font-style:italic;-webkit-text-stroke-width:0.2px;transform:rotate(0.03deg) scale(1,1.02);transform-origin:0 10.0px;">x</span>
<span style="left:213.26px;top:273.05px;font-size:12px;-webkit-text-stroke-width:0.2px;transform:rotate(0.03deg) scale(1,1.02);transform-origin:0 10.0px;">′</span>
<span style="left:215.05px;top:276.95px;font-size:10px;-webkit-text-stroke-width:0.2px;transform:rotate(0.03deg) scale(1,1.02);transform-origin:0 8.0px;">2</span>
<span style="left:219.66px;top:273.05px;font-size:12px;-webkit-text-stroke-width:0.2px;transform:rotate(0.03deg) scale(1,1.02);transform-origin:0 10.0px;">|</span>
<span style="left:225.13px;top:273.05px;font-size:12px;-webkit-text-stroke-width:0.2px;transform:rotate(0.03deg) scale(1,1.02);transform-origin:0 10.0px;">/</span>
<span style="left:231.48px;top:273.05px;font-size:12px;font-style:italic;-webkit-text-stroke-width:0.2px;transform:rotate(0.03deg) scale(1,1.02);transform-origin:0 10.0px;">μ</span>
<span style="left:236.57px;top:273.05px;font-size:12px;-webkit-text-stroke-width:0.2px;transform:rotate(0.03deg) scale(1,1.02);transform-origin:0 10.0px;">m</span>
<span style="left:491.53px;top:60.10px;font-size:17px;font-style:italic;transform:rotate(0.03deg) scale(1,1.12);transform-origin:0 14.0px;">D</span>
<span style="left:501.49px;top:66.70px;font-size:12.5px;letter-spacing:-0.6px;transform:rotate(0.03deg) scale(1,1.15);transform-origin:0 10.0px;">QM</span>
<span style="left:491.53px;top:89.30px;font-size:17px;font-style:italic;transform:rotate(0.03deg) scale(1,1.12);transform-origin:0 14.0px;">D</span>
<span style="left:500.95px;top:95.29px;font-size:12.5px;letter-spacing:-0.95px;transform:rotate(0.03deg) scale(1,1.15);transform-origin:0 10.0px;">dCSL</span>
<span style="left:532.69px;top:90.30px;font-size:16px;transform:rotate(0.03deg) scale(1,1.17);transform-origin:0 13.0px;">(</span>
<span style="left:538.95px;top:90.30px;font-size:16px;transform:rotate(0.03deg) scale(1,1.17);transform-origin:0 13.0px;">T</span>
<span style="left:551.61px;top:90.70px;font-size:16px;transform:rotate(0.03deg) scale(1,1.15);transform-origin:0 13.0px;">&gt;</span>
<span style="left:564.70px;top:90.30px;font-size:16px;transform:rotate(0.03deg) scale(1,1.17);transform-origin:0 13.0px;"><b>1</b></span>
<span style="left:571.99px;top:90.30px;font-size:16px;transform:rotate(0.03deg) scale(1,1.17);transform-origin:0 13.0px;">0</span>
<span style="left:581.19px;top:88.40px;font-size:12px;transform:rotate(0.03deg) scale(1,1.1);transform-origin:0 10.0px;">−</span>
<span style="left:587.57px;top:88.10px;font-size:12px;transform:rotate(0.03deg) scale(1,1.1);transform-origin:0 10.0px;">7</span>
<span style="left:593.75px;top:90.30px;font-size:16px;transform:rotate(0.03deg) scale(1,1.17);transform-origin:0 13.0px;">K</span>
<span style="left:604.12px;top:90.30px;font-size:16px;transform:rotate(0.03deg) scale(1,1.17);transform-origin:0 13.0px;">)</span>
<span style="left:491.53px;top:117.90px;font-size:17px;font-style:italic;transform:rotate(0.03deg) scale(1,1.12);transform-origin:0 14.0px;">D</span>
<span style="left:500.95px;top:123.89px;font-size:12.5px;letter-spacing:-0.95px;transform:rotate(0.03deg) scale(1,1.15);transform-origin:0 10.0px;">dCSL</span>
<span style="left:532.69px;top:118.90px;font-size:16px;transform:rotate(0.03deg) scale(1,1.17);transform-origin:0 13.0px;">(</span>
<span style="left:538.95px;top:118.90px;font-size:16px;transform:rotate(0.03deg) scale(1,1.17);transform-origin:0 13.0px;">T</span>
<span style="left:551.61px;top:119.30px;font-size:16px;transform:rotate(0.03deg) scale(1,1.15);transform-origin:0 13.0px;">=</span>
<span style="left:564.70px;top:118.90px;font-size:16px;transform:rotate(0.03deg) scale(1,1.17);transform-origin:0 13.0px;"><b>1</b></span>
<span style="left:571.99px;top:118.90px;font-size:16px;transform:rotate(0.03deg) scale(1,1.17);transform-origin:0 13.0px;">0</span>
<span style="left:581.19px;top:117.00px;font-size:12px;transform:rotate(0.03deg) scale(1,1.1);transform-origin:0 10.0px;">−</span>
<span style="left:587.67px;top:116.70px;font-size:12px;transform:rotate(0.03deg) scale(1,1.1);transform-origin:0 10.0px;">8</span>
<span style="left:593.75px;top:118.90px;font-size:16px;transform:rotate(0.03deg) scale(1,1.17);transform-origin:0 13.0px;">K</span>
<span style="left:604.12px;top:118.90px;font-size:16px;transform:rotate(0.03deg) scale(1,1.17);transform-origin:0 13.0px;">)</span>
<span style="left:491.53px;top:146.10px;font-size:17px;font-style:italic;transform:rotate(0.03deg) scale(1,1.12);transform-origin:0 14.0px;">D</span>
<span style="left:500.95px;top:152.09px;font-size:12.5px;letter-spacing:-0.95px;transform:rotate(0.03deg) scale(1,1.15);transform-origin:0 10.0px;">dCSL</span>
<span style="left:532.69px;top:147.10px;font-size:16px;transform:rotate(0.03deg) scale(1,1.17);transform-origin:0 13.0px;">(</span>
<span style="left:538.95px;top:147.10px;font-size:16px;transform:rotate(0.03deg) scale(1,1.17);transform-origin:0 13.0px;">T</span>
<span style="left:551.61px;top:147.50px;font-size:16px;transform:rotate(0.03deg) scale(1,1.15);transform-origin:0 13.0px;">=</span>
<span style="left:564.70px;top:147.10px;font-size:16px;transform:rotate(0.03deg) scale(1,1.17);transform-origin:0 13.0px;"><b>1</b></span>
<span style="left:571.99px;top:147.10px;font-size:16px;transform:rotate(0.03deg) scale(1,1.17);transform-origin:0 13.0px;">0</span>
<span style="left:581.19px;top:145.20px;font-size:12px;transform:rotate(0.03deg) scale(1,1.1);transform-origin:0 10.0px;">−</span>
<span style="left:587.62px;top:144.90px;font-size:12px;transform:rotate(0.03deg) scale(1,1.1);transform-origin:0 10.0px;">9</span>
<span style="left:593.75px;top:147.10px;font-size:16px;transform:rotate(0.03deg) scale(1,1.17);transform-origin:0 13.0px;">K</span>
<span style="left:604.12px;top:147.10px;font-size:16px;transform:rotate(0.03deg) scale(1,1.17);transform-origin:0 13.0px;">)</span>
<span style="left:491.53px;top:174.40px;font-size:17px;font-style:italic;transform:rotate(0.03deg) scale(1,1.12);transform-origin:0 14.0px;">D</span>
<span style="left:500.95px;top:180.39px;font-size:12.5px;letter-spacing:-0.95px;transform:rotate(0.03deg) scale(1,1.15);transform-origin:0 10.0px;">dCSL</span>
<span style="left:532.69px;top:175.40px;font-size:16px;transform:rotate(0.03deg) scale(1,1.17);transform-origin:0 13.0px;">(</span>
<span style="left:538.95px;top:175.40px;font-size:16px;transform:rotate(0.03deg) scale(1,1.17);transform-origin:0 13.0px;">T</span>
<span style="left:551.61px;top:175.80px;font-size:16px;transform:rotate(0.03deg) scale(1,1.15);transform-origin:0 13.0px;">=</span>
<span style="left:564.70px;top:175.40px;font-size:16px;transform:rotate(0.03deg) scale(1,1.17);transform-origin:0 13.0px;"><b>1</b></span>
<span style="left:571.99px;top:175.40px;font-size:16px;transform:rotate(0.03deg) scale(1,1.17);transform-origin:0 13.0px;">0</span>
<span style="left:581.19px;top:173.50px;font-size:12px;transform:rotate(0.03deg) scale(1,1.1);transform-origin:0 10.0px;">−</span>
<span style="left:586.90px;top:173.20px;font-size:12px;transform:rotate(0.03deg) scale(1,1.1);transform-origin:0 10.0px;"><b>1</b></span>
<span style="left:593.21px;top:173.20px;font-size:12px;transform:rotate(0.03deg) scale(1,1.1);transform-origin:0 10.0px;">0</span>
<span style="left:599.45px;top:175.40px;font-size:16px;transform:rotate(0.03deg) scale(1,1.17);transform-origin:0 13.0px;">K</span>
<span style="left:610.02px;top:175.40px;font-size:16px;transform:rotate(0.03deg) scale(1,1.17);transform-origin:0 13.0px;">)</span>
<span style="left:491.56px;top:205.20px;font-size:15.5px;font-style:italic;transform:rotate(0.03deg) scale(1,1.05);transform-origin:0 13.0px;">e</span>
<span style="left:500.09px;top:203.70px;font-size:12px;-webkit-text-stroke-width:0.25px;transform:rotate(0.03deg) scale(1,1.17);transform-origin:0 10.0px;">−</span>
<span style="left:505.95px;top:202.90px;font-size:12px;font-style:italic;-webkit-text-stroke-width:0.25px;transform:rotate(0.03deg) scale(1,1.17);transform-origin:0 10.0px;">λ</span>
<span style="left:513.01px;top:202.90px;font-size:12px;-webkit-text-stroke-width:0.25px;transform:rotate(0.03deg) scale(1,1.17);transform-origin:0 10.0px;">(</span>
<span style="left:516.92px;top:202.90px;font-size:12px;font-style:italic;-webkit-text-stroke-width:0.25px;transform:rotate(0.03deg) scale(1,1.17);transform-origin:0 10.0px;">t</span>
<span style="left:521.15px;top:207.50px;font-size:8.5px;-webkit-text-stroke-width:0.25px;transform:rotate(0.03deg) scale(1,1.02);transform-origin:0 7.0px;"><b>1</b></span>
<span style="left:524.88px;top:202.90px;font-size:12px;-webkit-text-stroke-width:0.25px;transform:rotate(0.03deg) scale(1,1.17);transform-origin:0 10.0px;">+</span>
<span style="left:532.92px;top:202.90px;font-size:12px;font-style:italic;-webkit-text-stroke-width:0.25px;transform:rotate(0.03deg) scale(1,1.17);transform-origin:0 10.0px;">t</span>
<span style="left:534.79px;top:207.60px;font-size:8.5px;-webkit-text-stroke-width:0.25px;transform:rotate(0.03deg) scale(1,1.1);transform-origin:0 7.0px;">2</span>
<span style="left:539.95px;top:202.90px;font-size:12px;-webkit-text-stroke-width:0.25px;transform:rotate(0.03deg) scale(1,1.17);transform-origin:0 10.0px;">)</span>
</div>
<svg width="623" height="289" viewBox="0 0 623 289" style="position:absolute;left:0;top:0"><g fill="#000" stroke="#000" stroke-width="0.4" stroke-linejoin="miter"><path vector-effect="non-scaling-stroke" transform="translate(4.51 16.95) scale(0.01353 -0.01316)" d="M0 0H-108V495H-290V565C-195 572-120 608-88 703H0Z"/><path vector-effect="non-scaling-stroke" transform="translate(406.66 262.15) scale(0.01353 -0.01316)" d="M0 0H-108V495H-290V565C-195 572-120 608-88 703H0Z"/><path vector-effect="non-scaling-stroke" transform="translate(570.33 103.30) scale(0.01760 -0.01872)" d="M0 0H-108V495H-290V565C-195 572-120 608-88 703H0Z"/><path vector-effect="non-scaling-stroke" transform="translate(570.33 131.90) scale(0.01760 -0.01872)" d="M0 0H-108V495H-290V565C-195 572-120 608-88 703H0Z"/><path vector-effect="non-scaling-stroke" transform="translate(570.33 160.10) scale(0.01760 -0.01872)" d="M0 0H-108V495H-290V565C-195 572-120 608-88 703H0Z"/><path vector-effect="non-scaling-stroke" transform="translate(570.33 188.40) scale(0.01760 -0.01872)" d="M0 0H-108V495H-290V565C-195 572-120 608-88 703H0Z"/><path vector-effect="non-scaling-stroke" transform="translate(591.12 183.20) scale(0.01320 -0.01320)" d="M0 0H-108V495H-290V565C-195 572-120 608-88 703H0Z"/><path vector-effect="non-scaling-stroke" transform="translate(524.14 214.50) scale(0.00935 -0.00867)" d="M0 0H-108V495H-290V565C-195 572-120 608-88 703H0Z"/></g></svg>
</body></html>
